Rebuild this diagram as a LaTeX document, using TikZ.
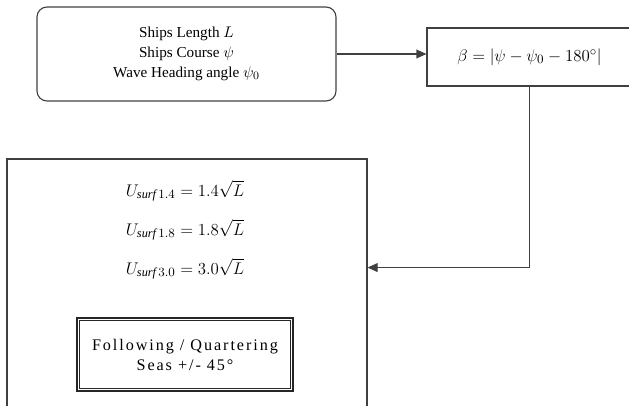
\documentclass[tikz,border=0pt]{standalone}
\usepackage{fontspec}
\setmainfont{Liberation Serif}
\newfontfamily\spacedfont[LetterSpace=12]{Liberation Serif}
\usetikzlibrary{arrows.meta,calc,positioning}

\begin{document}
\begin{tikzpicture}[font=\fontsize{10.8}{14}\selectfont,
  line width=0.8pt,
  box/.style={draw=black!75,align=center,inner sep=0pt},
  link/.style={draw=black!75,-{Triangle[length=0.25cm,width=0.22cm]}},
  eqn/.style={font=\fontsize{12.5}{15}\selectfont}]
\useasboundingbox (0,0) rectangle (15.725,10.125);
% inputs and heading
\node[box,rounded corners=0.25cm,minimum width=7.475cm,minimum height=2.35cm] (inputs) at (4.6625,8.775)
  {Ships Length $L$\\Ships Course $\psi$\\Wave Heading angle $\psi_0$};
\node[box,eqn,minimum width=5.125cm,minimum height=1.45cm] (beta) at (13.2375,8.7)
  {$\beta = \left|\psi - \psi_0 - 180^\circ\right|$};
% surf-riding speeds (box runs off the bottom of the page)
\node[box,minimum width=9cm,minimum height=6.4cm] (speeds) at (4.675,2.95) {};
\node[eqn] (eqa) at (4.625,5.35) {$U_{\mathit{surf}\,1.4} = 1.4\sqrt{L}$};
\node[eqn] (eqb) at (4.625,4.375) {$U_{\mathit{surf}\,1.8} = 1.8\sqrt{L}$};
\node[eqn] (eqc) at (4.625,3.4) {$U_{\mathit{surf}\,3.0} = 3.0\sqrt{L}$};
\node[box,line width=1.4pt,draw=black!85,minimum width=5.4cm,minimum height=1.825cm,
  font=\spacedfont\fontsize{11.5}{14.2}\selectfont] (seas) at (4.625,1.2625)
  {Following / Quartering\\Seas +/- 45°};
\draw[black!85,line width=0.6pt] ([shift={(0.09,-0.09)}]seas.north west) rectangle ([shift={(-0.09,0.09)}]seas.south east);
% connectors
\coordinate (turn) at ($(beta.south)+(0,-4.525)$);
\draw[link] (inputs.east) -- (inputs.east -| beta.west);
\draw[link] (beta.south) -- (turn) -- (turn -| speeds.east);
\end{tikzpicture}
\end{document}
